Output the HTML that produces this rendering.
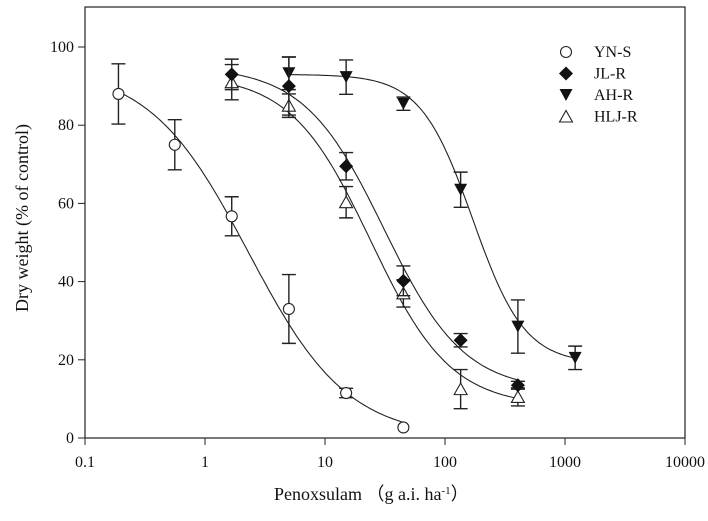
<!DOCTYPE html>
<html><head><meta charset="utf-8"><style>
body{margin:0;background:#fff}
svg text{font-family:"Liberation Serif","DejaVu Serif",serif !important;fill:#111}
</style></head><body>
<svg id="chart" width="708" height="516" viewBox="0 0 708 516" xmlns="http://www.w3.org/2000/svg" font-family="Liberation Serif, serif">
<rect x="85" y="7" width="600" height="431" fill="none" stroke="#222" stroke-width="1.2"/>
<g id="xticks"></g><g id="yticks"></g><g id="curves"></g><g id="points"></g>
<text font-family="Liberation Serif, serif" transform="translate(28,218) rotate(-90)" text-anchor="middle" font-size="18">Dry weight (% of control)</text>
<text font-family="Liberation Serif, serif" x="274" y="500" font-size="18">Penoxsulam （g a.i. ha<tspan dy="-6" font-size="11">-1</tspan><tspan dy="6">）</tspan></text>
<g id="legend"></g>
</svg>
<script>
const xTicks=[0.1,1,10,100,1000,10000];
const xTickLabels=["0.1","1","10","100","1000","10000"];
const yTicks=[0,20,40,60,80,100];
const seriesNames=["YN-S","JL-R","AH-R","HLJ-R"];
const ynsX=[0.19,0.56,1.67,5,15,45];
const ynsY=[88,75,56.7,33,11.5,2.7];
const ynsErr=[7.7,6.4,5,8.8,1.2,0];
const jlrX=[1.67,5,15,45,135,405];
const jlrY=[93,90,69.5,40.2,25,13.5];
const jlrErr=[3.9,7.4,3.5,3.8,1.7,1];
const ahrX=[5,15,45,135,405,1215];
const ahrY=[93.3,92.3,85.5,63.5,28.5,20.5];
const ahrErr=[4.2,4.4,1.7,4.5,6.8,3];
const hljX=[1.67,5,15,45,135,405];
const hljY=[91,85,60.3,37,12.5,10.5];
const hljErr=[4.5,3,4,3.5,5,2.3];
// fitted curve params: [lower, upper, ED50, slope, xStart, xEnd]
const ynsFit=[0,95,2.3,1.05,0.19,45];
const jlrFit=[12,95,31,1.3,1.67,405];
const ahrFit=[19,93,170,2,5,1215];
const hljFit=[8,93,24,1.3,1.67,405];

const NS="http://www.w3.org/2000/svg";
const X=v=>85+120*(Math.log10(v)+1);
const Y=v=>438-3.91*v;
function mk(tag,attrs,parent){const e=document.createElementNS(NS,tag);for(const k in attrs)e.setAttribute(k,attrs[k]);document.getElementById(parent)?document.getElementById(parent).appendChild(e):parent.appendChild(e);return e;}
const FF="Liberation Serif, serif";
xTicks.forEach((t,i)=>{
 const l=mk('line',{x1:X(t),x2:X(t),y1:438,y2:445,stroke:'#222'},'xticks');
 
 
 const tx=mk('text',{x:X(t),y:467,'text-anchor':'middle','font-size':16,'font-family':FF},'xticks');tx.textContent=xTickLabels[i];
 
 
});
yTicks.forEach(t=>{
 const l=mk('line',{x1:78,x2:85,y1:Y(t),y2:Y(t),stroke:'#222'},'yticks');
 
 
 const tx=mk('text',{x:74,y:Y(t)+5,'text-anchor':'end','font-size':16,'font-family':FF},'yticks');tx.textContent=t;
 
 
});
function curve(p,name){const [c,d,e,b,x0,x1]=p;let s='';const n=120;
 for(let i=0;i<=n;i++){const lx=Math.log10(x0)+(Math.log10(x1)-Math.log10(x0))*i/n;const x=Math.pow(10,lx);const y=c+(d-c)/(1+Math.pow(x/e,b));s+=(i?'L':'M')+X(x).toFixed(1)+','+Y(y).toFixed(1);}
 const pth=mk('path',{d:s,fill:'none',stroke:'#222','stroke-width':1.1},'curves');
 
 }
curve(ynsFit,'yns-fit-curve');curve(jlrFit,'jlr-fit-curve');curve(ahrFit,'ahr-fit-curve');curve(hljFit,'hlj-fit-curve');
function marker(kind,cx,cy,g){
 if(kind==='circle')return mk('circle',{cx:cx,cy:cy,r:5.5,fill:'#fff',stroke:'#222','stroke-width':1.1},g);
 if(kind==='diamond')return mk('path',{d:`M${cx},${cy-7}L${cx+7},${cy}L${cx},${cy+7}L${cx-7},${cy}Z`,fill:'#111'},g);
 if(kind==='down')return mk('path',{d:`M${cx-6.5},${cy-6}L${cx+6.5},${cy-6}L${cx},${cy+6}Z`,fill:'#111'},g);
 return mk('path',{d:`M${cx-6.5},${cy+5.5}L${cx+6.5},${cy+5.5}L${cx},${cy-6}Z`,fill:'#fff',stroke:'#222','stroke-width':1.1},g);
}
function series(xs,ys,es,kind,name){
 const g=mk('g',{},'points');
 
 
 xs.forEach((x,i)=>{const cx=X(x),cy=Y(ys[i]),e=es[i];
  if(e>0){const eb=mk('path',{d:`M${cx},${Y(ys[i]+e)}V${Y(ys[i]-e)}M${cx-7},${Y(ys[i]+e)}H${cx+7}M${cx-7},${Y(ys[i]-e)}H${cx+7}`,stroke:'#222','stroke-width':1.4,fill:'none'},g);
   
   }
  const m=marker(kind,cx,cy,g);
  
  
 });
}
series(ahrX,ahrY,ahrErr,'down','ahr');
series(hljX,hljY,hljErr,'up','hlj');
series(jlrX,jlrY,jlrErr,'diamond','jlr');
series(ynsX,ynsY,ynsErr,'circle','yns');
const kinds=['circle','diamond','down','up'];
seriesNames.forEach((n,i)=>{const y=52+21.5*i;
 const m=marker(kinds[i],566,y,document.getElementById('legend'));
 
 
 const t=mk('text',{x:594,y:y+5,'font-size':16,'font-family':FF},'legend');t.textContent=n;
 
 
});
</script>
</body></html>
